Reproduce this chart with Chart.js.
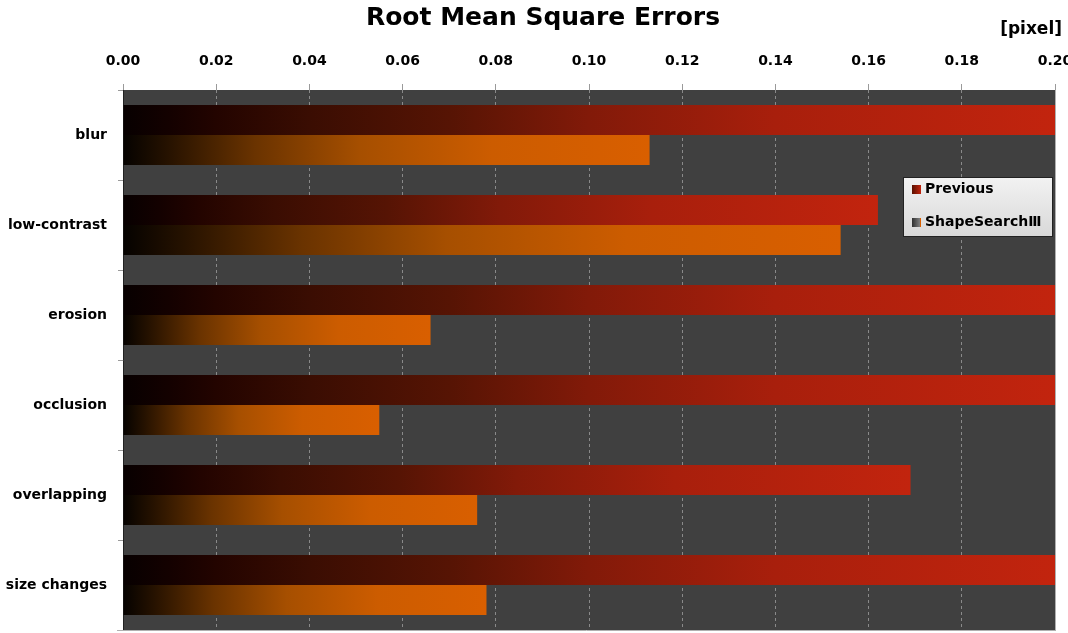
<!DOCTYPE html>
<html>
<head>
<meta charset="utf-8">
<script src="https://cdn.jsdelivr.net/npm/chart.js@4.4.0/dist/chart.umd.min.js"></script>
<style>
  html, body { margin: 0; padding: 0; background: #ffffff; }
  #wrap { position: relative; width: 1068px; height: 633px; }
</style>
</head>
<body>
<div id="wrap"><canvas id="c" width="1068" height="633"></canvas></div>
<script>
const categories = ['blur', 'low-contrast', 'erosion', 'occlusion', 'overlapping', 'size changes'];
const seriesNames = ['Previous', 'ShapeSearch\u2162'];
const previousValues = [0.200, 0.162, 0.200, 0.200, 0.169, 0.200];
const shapeSearchValues = [0.113, 0.154, 0.066, 0.055, 0.076, 0.078];
const tickMin = 0, tickMax = 0.20, tickStep = 0.02;
const titleText = 'Root Mean Square Errors';
const unitText = '[pixel]';

const FONT = "'DejaVu Sans', Verdana, sans-serif";

const prevStops = [[0, '#070000'], [0.05, '#140100'], [0.1, '#230400'], [0.2, '#3a0d02'], [0.35, '#561404'], [0.5, '#821a09'], [0.7, '#a81f0c'], [1, '#c2240e']];
const orangeStops = [[0, '#050200'], [0.08, '#241100'], [0.25, '#6a3300'], [0.45, '#a64f00'], [0.7, '#cc5c00'], [1, '#d95f00']];

function gradientFor(stops, fallback) {
  return function(ctx) {
    const chart = ctx.chart;
    const area = chart.chartArea;
    if (!area || ctx.type !== 'data') return fallback;
    const xs = chart.scales.x;
    const v = ctx.raw;
    const x0 = xs.getPixelForValue(0);
    const x1 = xs.getPixelForValue(Math.min(v, tickMax));
    if (!isFinite(x0) || !isFinite(x1) || x1 - x0 < 1) return fallback;
    const g = chart.ctx.createLinearGradient(x0, 0, x1, 0);
    stops.forEach(s => g.addColorStop(s[0], s[1]));
    return g;
  };
}

const plotBg = {
  id: 'plotBg',
  beforeDraw(chart) {
    const { ctx, chartArea: a } = chart;
    ctx.save();
    ctx.fillStyle = '#404040';
    ctx.fillRect(a.left, a.top, a.right - a.left, a.bottom - a.top);
    ctx.restore();
  },
  afterDraw(chart) {
    const { ctx, chartArea: a } = chart;
    ctx.save();
    ctx.strokeStyle = '#b0b0b0';
    ctx.lineWidth = 1;
    ctx.beginPath();
    ctx.moveTo(a.right + 0.5, a.top);
    ctx.lineTo(a.right + 0.5, a.bottom);
    ctx.moveTo(a.left - 6, a.bottom + 0.5);
    ctx.lineTo(a.right + 1, a.bottom + 0.5);
    ctx.stroke();
    // title
    ctx.fillStyle = '#000000';
    ctx.textAlign = 'center';
    ctx.textBaseline = 'middle';
    ctx.font = 'bold 25px ' + FONT;
    ctx.fillText(titleText, 543, 18);
    ctx.textAlign = 'right';
    ctx.font = 'bold 17px ' + FONT;
    ctx.fillText(unitText, 1062, 30);
    // legend
    const lx = 903, ly = 177, lw = 149, lh = 59;
    const lg = ctx.createLinearGradient(0, ly, 0, ly + lh);
    lg.addColorStop(0, '#f2f2f2');
    lg.addColorStop(1, '#d9d9d9');
    ctx.fillStyle = lg;
    ctx.fillRect(lx, ly, lw, lh);
    ctx.strokeStyle = '#222222';
    ctx.lineWidth = 1;
    ctx.strokeRect(lx + 0.5, ly + 0.5, lw, lh);
    const items = [
      { name: seriesNames[0], y: 189, c1: '#5a1000', c2: '#c2240e' },
      { name: seriesNames[1], y: 222, c1: '#303030', c2: '#8a8a8a' }
    ];
    items.forEach((it, i) => {
      const sg = ctx.createLinearGradient(912, 0, 921, 0);
      sg.addColorStop(0, it.c1);
      sg.addColorStop(1, it.c2);
      ctx.fillStyle = sg;
      ctx.fillRect(912, it.y - 4, 9, 9);
      if (i === 1) { ctx.fillStyle = '#d95f00'; ctx.fillRect(920, it.y - 4, 1, 9); }
      ctx.fillStyle = '#000000';
      ctx.textAlign = 'left';
      ctx.textBaseline = 'middle';
      ctx.font = 'bold 14px ' + FONT;
      ctx.fillText(it.name, 925, it.y);
    });
    ctx.restore();
  }
};

new Chart(document.getElementById('c'), {
  type: 'bar',
  data: {
    labels: categories,
    datasets: [
      {
        label: seriesNames[0],
        data: previousValues,
        backgroundColor: gradientFor(prevStops, '#c2240e'),
        borderWidth: 0,
        categoryPercentage: 0.667,
        barPercentage: 1.0
      },
      {
        label: seriesNames[1],
        data: shapeSearchValues,
        backgroundColor: gradientFor(orangeStops, '#d95f00'),
        borderWidth: 0,
        categoryPercentage: 0.667,
        barPercentage: 1.0
      }
    ]
  },
  options: {
    indexAxis: 'y',
    responsive: false,
    animation: false,
    layout: { padding: { left: 0, right: 0, top: 0, bottom: 0 } },
    plugins: {
      legend: { display: false },
      title: { display: false },
      tooltip: { enabled: false }
    },
    scales: {
      x: {
        position: 'top',
        min: tickMin,
        max: tickMax,
        ticks: {
          stepSize: tickStep,
          color: '#000000',
          font: { family: FONT, size: 14, weight: 'bold' },
          padding: 14,
          callback: v => Number(v).toFixed(2)
        },
        grid: {
          color: '#8a8a8a',
          tickColor: '#9a9a9a',
          tickLength: 6,
          lineWidth: 1
        },
        border: { display: false, dash: [3, 3] },
        afterFit(scale) { scale.height = 90; scale.paddingRight = 13; scale.paddingLeft = 0; }
      },
      y: {
        ticks: {
          color: '#000000',
          font: { family: FONT, size: 14, weight: 'bold' },
          padding: 11
        },
        grid: {
          drawOnChartArea: false,
          tickLength: 5,
          tickColor: '#9a9a9a',
          offset: true
        },
        border: { display: true, color: '#222222' },
        afterFit(scale) { scale.width = 123; scale.paddingTop = 0; scale.paddingBottom = 3; }
      }
    }
  },
  plugins: [plotBg]
});
</script>
</body>
</html>
